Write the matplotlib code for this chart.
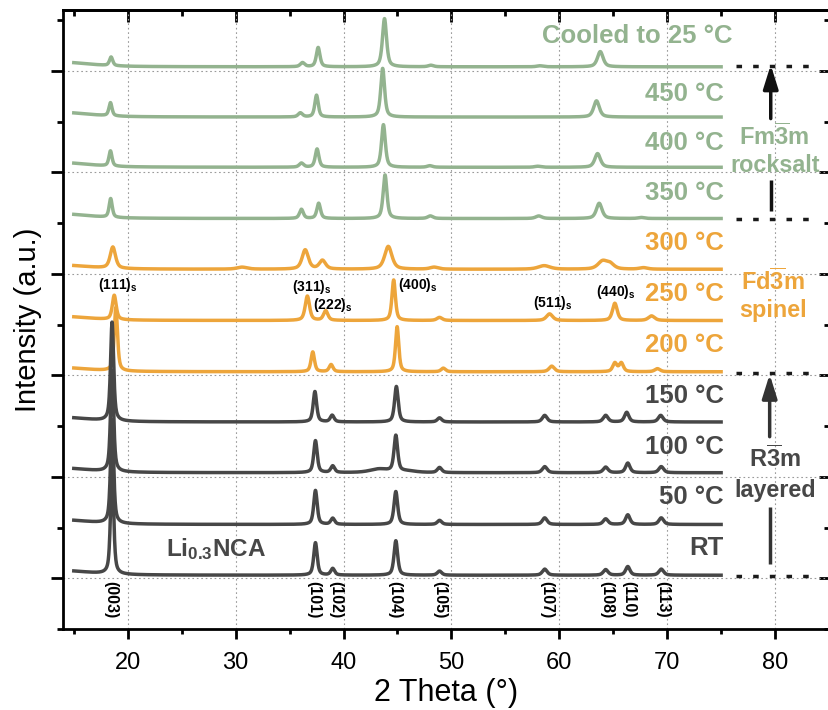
import numpy as np
import matplotlib
matplotlib.use("Agg")
import matplotlib.pyplot as plt
from matplotlib.ticker import MultipleLocator

plt.rcParams["font.family"] = ["Liberation Sans", "DejaVu Sans"]
plt.rcParams["mathtext.fontset"] = "custom"
plt.rcParams["mathtext.rm"] = "Liberation Sans"
plt.rcParams["mathtext.bf"] = "Liberation Sans:bold"
plt.rcParams["mathtext.it"] = "Liberation Sans:italic"

# ---- data -------------------------------------------------------------
two_theta = np.linspace(15, 75, 3001)

temp_labels = ["RT", "50 °C", "100 °C", "150 °C", "200 °C", "250 °C",
               "300 °C", "350 °C", "400 °C", "450 °C", "Cooled to 25 °C"]
offsets = [0.06, 1.06, 2.08, 3.08, 4.07, 5.08, 6.09, 7.09, 8.10, 9.09, 10.08]
label_x = [75.25] * 10 + [76.1]
label_y = [0.60, 1.60, 2.58, 3.60, 4.60, 5.60, 6.60, 7.59, 8.57, 9.55, 10.68]
phase = ["layered"] * 4 + ["spinel"] * 3 + ["rocksalt"] * 4

# each reflection: (position 2θ, height, FWHM); first entry = low-angle background
peaks_rt = [(14.0, 0.09, 6.0), (18.55, 2.10, 0.34), (37.40, 0.64, 0.38),
            (39.00, 0.13, 0.42), (44.85, 0.68, 0.40), (48.90, 0.08, 0.48),
            (58.65, 0.12, 0.52), (64.30, 0.11, 0.52), (66.35, 0.17, 0.48),
            (69.45, 0.12, 0.52)]
peaks_50 = [(14.0, 0.09, 6.0), (18.55, 2.05, 0.34), (37.40, 0.67, 0.38),
            (39.00, 0.12, 0.42), (44.85, 0.65, 0.40), (48.90, 0.08, 0.48),
            (58.65, 0.13, 0.52), (64.30, 0.11, 0.52), (66.35, 0.19, 0.48),
            (69.45, 0.13, 0.52)]
peaks_100 = [(14.0, 0.09, 6.0), (18.55, 2.00, 0.34), (37.40, 0.63, 0.38),
             (39.00, 0.13, 0.42), (43.30, 0.07, 2.00), (44.85, 0.71, 0.40),
             (45.90, 0.03, 2.00), (48.90, 0.10, 0.48), (58.65, 0.12, 0.52),
             (64.30, 0.11, 0.52), (66.35, 0.19, 0.48), (69.45, 0.12, 0.52)]
peaks_150 = [(14.0, 0.09, 6.0), (18.55, 1.95, 0.34), (37.35, 0.60, 0.38),
             (38.95, 0.13, 0.42), (44.90, 0.70, 0.40), (48.90, 0.08, 0.48),
             (58.65, 0.13, 0.52), (64.30, 0.13, 0.52), (66.25, 0.19, 0.48),
             (69.40, 0.13, 0.52)]
peaks_200 = [(14.0, 0.08, 6.0), (18.90, 1.25, 0.36), (37.15, 0.39, 0.38),
             (38.85, 0.14, 0.42), (44.97, 0.89, 0.36), (49.25, 0.07, 0.48),
             (59.30, 0.11, 0.58), (65.15, 0.17, 0.46), (65.75, 0.17, 0.46),
             (69.10, 0.06, 0.58)]
peaks_250 = [(14.0, 0.08, 6.0), (18.75, 0.48, 0.42), (36.65, 0.48, 0.48),
             (38.35, 0.19, 0.48), (44.65, 0.80, 0.38), (48.90, 0.06, 0.58),
             (59.10, 0.13, 0.68), (65.15, 0.34, 0.52), (68.55, 0.09, 0.68)]
peaks_300 = [(14.0, 0.08, 6.0), (18.62, 0.42, 0.58), (30.60, 0.04, 1.10),
             (36.45, 0.38, 0.68), (38.05, 0.17, 0.68), (44.15, 0.45, 0.80),
             (48.40, 0.04, 0.90), (58.60, 0.07, 1.30), (64.00, 0.15, 1.00),
             (64.70, 0.10, 0.90), (67.80, 0.03, 0.90)]
peaks_350 = [(14.0, 0.09, 6.0), (18.42, 0.37, 0.34), (36.10, 0.18, 0.42),
             (37.70, 0.30, 0.40), (43.85, 0.86, 0.42), (48.05, 0.05, 0.58),
             (58.10, 0.05, 0.68), (63.70, 0.30, 0.62), (67.60, 0.02, 0.68)]
peaks_400 = [(14.0, 0.09, 6.0), (18.40, 0.30, 0.34), (36.10, 0.08, 0.48),
             (37.55, 0.36, 0.40), (43.70, 0.84, 0.42), (48.00, 0.03, 0.58),
             (58.00, 0.02, 0.68), (63.55, 0.27, 0.62)]
peaks_450 = [(14.0, 0.09, 6.0), (18.40, 0.26, 0.34), (36.00, 0.08, 0.48),
             (37.50, 0.43, 0.38), (43.63, 0.96, 0.42), (63.45, 0.32, 0.62)]
peaks_cooled = [(14.0, 0.09, 6.0), (18.46, 0.17, 0.36), (36.20, 0.08, 0.48),
                (37.65, 0.38, 0.40), (43.80, 0.95, 0.45), (48.10, 0.03, 0.58),
                (58.20, 0.02, 0.68), (63.80, 0.30, 0.62)]
all_peaks = [peaks_rt, peaks_50, peaks_100, peaks_150, peaks_200, peaks_250,
             peaks_300, peaks_350, peaks_400, peaks_450, peaks_cooled]

# layered (R-3m) reflection markers along the bottom
hkl_labels = ["(003)", "(101)", "(102)", "(104)", "(105)",
              "(107)", "(108)", "(110)", "(113)"]
hkl_pos = [18.46, 37.23, 39.27, 44.74, 48.92, 58.87, 64.38, 66.45, 69.63]

# spinel (Fd-3m) reflection markers on the 250 °C pattern
spinel_labels = ["111", "311", "222", "400", "511", "440"]
spinel_x = [19.1, 37.1, 39.0, 46.9, 59.4, 65.2]
spinel_y = [5.78, 5.75, 5.38, 5.78, 5.42, 5.65]

colors = {"layered": "#474747", "spinel": "#EDA53B", "rocksalt": "#93B38F"}


def pseudo_voigt(x, center, height, fwhm, eta=0.6):
    u = (x - center) / (fwhm / 2.0)
    lor = 1.0 / (1.0 + u ** 2)
    gau = np.exp(-np.log(2) * u ** 2)
    return height * (eta * lor + (1 - eta) * gau)


# ---- figure -----------------------------------------------------------
fig = plt.figure(figsize=(8.29, 7.10), dpi=100)
ax = fig.add_axes([63 / 829, (710 - 629) / 710, 766 / 829, 619 / 710])
ax.set_xlim(14, 85)
ax.set_ylim(-1, 11.2)

ax.grid(True, which="major", linestyle=(0, (1.5, 2.5)), linewidth=0.8,
        color="#9a9a9a")
ax.set_axisbelow(True)

for i in reversed(range(len(all_peaks))):
    y = np.full_like(two_theta, offsets[i])
    for c, h, w in all_peaks[i]:
        y += pseudo_voigt(two_theta, c, h, w)
    col = colors[phase[i]]
    ax.plot(two_theta, y, color=col, lw=2.5, zorder=3)
    ax.text(label_x[i], label_y[i], temp_labels[i], color=col, fontsize=18.5,
            fontweight="bold", ha="right", va="center", zorder=4)

for lab, xp in zip(hkl_labels, hkl_pos):
    ax.text(xp, -0.42, lab, rotation=270, ha="center", va="center",
            fontsize=11.5, fontweight="bold", color="black")

for lab, xp, yp in zip(spinel_labels, spinel_x, spinel_y):
    ax.text(xp, yp, r"$\mathbf{(%s)_s}$" % lab, ha="center", va="center",
            fontsize=10, color="black", zorder=5)

ax.text(28.2, 0.57, r"$\mathbf{Li_{0.3}NCA}$", ha="center", va="center",
        fontsize=17.5, color=colors["layered"])

# phase boundaries on the right
for yb in [10.10, 7.08, 4.05, 0.04]:
    ax.plot([76.4, 83.5], [yb, yb], color="#1a1a1a", lw=2.5,
            linestyle=(0, (1.6, 3.2)), zorder=3)

# phase names
ax.text(79.95, 8.70, r"$\mathbf{Fm\overline{3}m}$", ha="center", va="center",
        fontsize=17, color=colors["rocksalt"])
ax.text(80.0, 8.14, "rocksalt", ha="center", va="center", fontsize=16.8,
        fontweight="bold", color=colors["rocksalt"])
ax.text(79.75, 5.84, r"$\mathbf{Fd\overline{3}m}$", ha="center", va="center",
        fontsize=17, color=colors["spinel"])
ax.text(79.8, 5.28, "spinel", ha="center", va="center", fontsize=16.8,
        fontweight="bold", color=colors["spinel"])
ax.text(79.95, 2.36, r"$\mathbf{R\overline{3}m}$", ha="center", va="center",
        fontsize=17, color=colors["layered"])
ax.text(80.0, 1.73, "layered", ha="center", va="center", fontsize=16.8,
        fontweight="bold", color=colors["layered"])

# arrows indicating the heating direction
arrow_style = "-|>,head_length=0.8,head_width=0.25"
ax.annotate("", xy=(79.6, 10.12), xytext=(79.6, 9.06),
            arrowprops=dict(arrowstyle=arrow_style, color="#111111", lw=2.5,
                            mutation_scale=18, shrinkA=0, shrinkB=0))
ax.plot([79.6, 79.6], [7.24, 7.85], color="#111111", lw=2.5,
        solid_capstyle="butt")
ax.annotate("", xy=(79.5, 4.02), xytext=(79.5, 2.79),
            arrowprops=dict(arrowstyle=arrow_style, color="#333333", lw=2.5,
                            mutation_scale=18, shrinkA=0, shrinkB=0))
ax.plot([79.5, 79.5], [0.29, 1.41], color="#333333", lw=2.5,
        solid_capstyle="butt")

# axes, ticks and labels
for sp in ax.spines.values():
    sp.set_linewidth(2)
ax.xaxis.set_major_locator(MultipleLocator(10))
ax.xaxis.set_minor_locator(MultipleLocator(5))
ax.yaxis.set_major_locator(MultipleLocator(2))
ax.yaxis.set_minor_locator(MultipleLocator(1))
ax.tick_params(axis="x", which="major", direction="out", length=7.5, width=2,
               labelsize=17, pad=9)
ax.tick_params(axis="x", which="minor", direction="out", length=3.8, width=2)
ax.tick_params(axis="y", which="major", direction="out", length=9, width=2,
               labelleft=False)
ax.tick_params(axis="y", which="minor", direction="out", length=4.3, width=2)
ax.tick_params(top=False, right=False, which="both")

top = ax.secondary_xaxis("top")
top.xaxis.set_major_locator(MultipleLocator(10))
top.xaxis.set_minor_locator(MultipleLocator(5))
top.tick_params(which="major", direction="in", length=8.5, width=2,
                labeltop=False)
top.tick_params(which="minor", direction="in", length=4.3, width=2)
top.spines["top"].set_linewidth(2)

right = ax.secondary_yaxis("right")
right.yaxis.set_major_locator(MultipleLocator(2))
right.yaxis.set_minor_locator(MultipleLocator(1))
right.tick_params(which="major", direction="in", length=7, width=2,
                  labelright=False)
right.tick_params(which="minor", direction="in", length=3.5, width=2)
right.spines["right"].set_linewidth(2)

ax.set_xlabel("2 Theta (°)", fontsize=22, labelpad=3)
ax.set_ylabel("Intensity (a.u.)", fontsize=21, labelpad=6)

fig.savefig("out.png", dpi=100)
